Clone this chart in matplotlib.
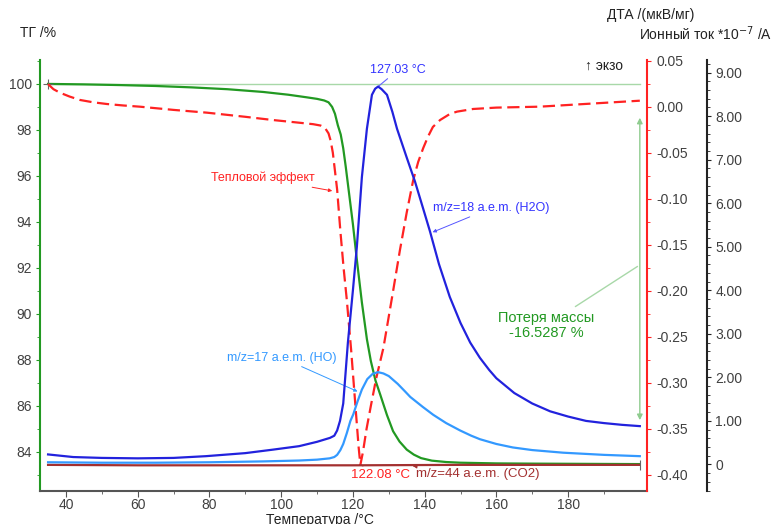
import matplotlib.pyplot as plt
from matplotlib.ticker import FixedLocator, MultipleLocator, FuncFormatter

plt.rcParams['font.family'] = ['Liberation Sans', 'DejaVu Sans']
plt.rcParams['axes.unicode_minus'] = False

# TG (mass, %)
tg_t = [35, 45, 55, 65, 75, 85, 95, 102, 107, 110, 112, 113.2, 114.2, 115, 115.8, 116.6,
        117.3, 118.0, 118.8, 120.0, 121.1, 122.5, 123.9, 125.0, 126.3, 127.6, 129.5, 131.2,
        133.0, 135.0, 137.0, 139.0, 142.0, 146.0, 150.0, 160.0, 170.0, 185.0, 200.0]
tg_v = [100.0, 99.98, 99.95, 99.91, 99.85, 99.77, 99.65, 99.53, 99.42, 99.35, 99.28, 99.2,
        99.0, 98.7, 98.2, 97.8, 97.2, 96.4, 95.4, 93.9, 92.35, 90.5, 88.9, 87.95, 87.1, 86.5,
        85.6, 84.9, 84.45, 84.1, 83.88, 83.73, 83.62, 83.56, 83.53, 83.5, 83.49, 83.48, 83.47]

# DTA (uV/mg)
dta_t = [35, 36.5, 38.3, 41, 43.9, 47.5, 51.4, 56, 60.6, 70, 79.3, 90, 97.7, 104, 108.9, 111,
         112.2, 113.2, 113.8, 114.4, 115.0, 115.6, 116.5, 117.4, 118.3, 119.5, 120.8, 121.6,
         122.08, 122.8, 123.8, 125.0, 126.5, 128.5, 131.0, 133.1, 135.0, 136.8, 138.2, 139.6,
         141.0, 142.3, 144.3, 147.0, 149.0, 153.5, 160.0, 172.0, 185.0, 200.0]
dta_v = [0.0245, 0.019, 0.0152, 0.011, 0.0073, 0.0048, 0.0029, 0.0013, 0.0, -0.0035, -0.0065,
         -0.011, -0.0145, -0.017, -0.019, -0.0205, -0.023, -0.029, -0.037, -0.05, -0.07, -0.09,
         -0.135, -0.175, -0.21, -0.264, -0.33, -0.37, -0.389, -0.375, -0.35, -0.325, -0.295,
         -0.262, -0.205, -0.156, -0.115, -0.08, -0.06, -0.045, -0.032, -0.022, -0.0145, -0.008,
         -0.0054, -0.0025, -0.001, 0.0, 0.003, 0.0065]

# ion current *1e-7 A, m/z=18 (H2O)
h2o_t = [35, 42, 50, 60, 70, 79, 90, 97.7, 105, 110, 113.6, 114.8, 115.6, 116.4, 117.3, 118.6,
         120.0, 121.1, 122.5, 123.9, 125.3, 126.2, 127.03, 128.0, 129.5, 131.0, 132.3, 135.0,
         137.3, 139.5, 141.5, 144.0, 147.0, 150.0, 152.7, 155.4, 158.0, 160.0, 165.0, 170.0,
         175.0, 180.0, 185.0, 190.0, 195.0, 200.0]
h2o_v = [0.23, 0.17, 0.15, 0.14, 0.15, 0.19, 0.26, 0.34, 0.42, 0.52, 0.61, 0.66, 0.78, 1.0, 1.4,
         2.8, 4.0, 5.0, 6.6, 7.71, 8.49, 8.63, 8.68, 8.62, 8.49, 8.1, 7.71, 7.05, 6.5, 5.9, 5.35,
         4.6, 3.85, 3.25, 2.8, 2.45, 2.17, 1.98, 1.64, 1.4, 1.22, 1.1, 1.0, 0.95, 0.91, 0.88]

# m/z=17 (HO)
ho_t = [35, 50, 65, 80, 95, 105, 110, 113.5, 114.8, 115.6, 116.5, 117.3, 118.3, 119.3, 120.1,
        121.3, 122.5, 124.0, 125.5, 127.0, 128.5, 130.0, 132.5, 134.5, 136.0, 139.5, 142.4,
        146.0, 149.9, 153.0, 155.4, 160.0, 164.6, 170.0, 178.6, 190.0, 200.0]
ho_v = [0.05, 0.04, 0.04, 0.05, 0.07, 0.09, 0.11, 0.14, 0.17, 0.22, 0.33, 0.47, 0.72, 1.0, 1.15,
        1.45, 1.72, 1.96, 2.08, 2.12, 2.09, 2.03, 1.85, 1.68, 1.55, 1.32, 1.14, 0.95, 0.78, 0.66,
        0.58, 0.47, 0.39, 0.33, 0.27, 0.22, 0.19]

# m/z=44 (CO2)
co2_t = [35, 60, 90, 120, 150, 180, 200]
co2_v = [-0.01, -0.02, -0.02, -0.02, -0.01, -0.01, -0.01]

green = '#229922'
red = '#ff2222'
blue = '#2222dd'
lblue = '#3399ff'
brown = '#a33030'
txt = '#404040'

fig = plt.figure(figsize=(7.74, 5.24), dpi=100)
ax = fig.add_axes([40 / 774, 1 - 491 / 524, 607 / 774, 431 / 524])
ax2 = ax.twinx()
ax3 = ax.twinx()

ax.set_xlim(32.75, 202.0)
ax.set_ylim(82.3, 101.04)
ax2.set_ylim(-0.4174, 0.0507)
ax3.set_ylim(-0.61, 9.29)

# spines
ax.spines['top'].set_visible(False)
ax.spines['right'].set_visible(False)
ax.spines['left'].set_color(green)
ax.spines['left'].set_linewidth(1.5)
ax.spines['bottom'].set_color('#555555')
ax.spines['bottom'].set_linewidth(1.5)
for a in (ax2, ax3):
    for s in ('left', 'top', 'bottom'):
        a.spines[s].set_visible(False)
ax2.spines['right'].set_color(red)
ax2.spines['right'].set_linewidth(1.5)
ax3.spines['right'].set_color('#222222')
ax3.spines['right'].set_linewidth(1.5)
ax3.spines['right'].set_position(('outward', 43.2))  # 60 px

# ticks
ax.xaxis.set_major_locator(FixedLocator([40, 60, 80, 100, 120, 140, 160, 180]))
ax.xaxis.set_minor_locator(FixedLocator([50, 70, 90, 110, 130, 150, 170, 190]))
ax.yaxis.set_major_locator(MultipleLocator(2))
ax.yaxis.set_minor_locator(MultipleLocator(1))
ax2.yaxis.set_major_locator(MultipleLocator(0.05))
ax2.yaxis.set_minor_locator(MultipleLocator(0.025))
ax2.yaxis.set_major_formatter(FuncFormatter(lambda v, p: f'{v:.2f}'))
ax3.yaxis.set_major_locator(MultipleLocator(1))
ax3.yaxis.set_minor_locator(MultipleLocator(0.2))
ax3.yaxis.set_major_formatter(FuncFormatter(lambda v, p: '0' if abs(v) < 1e-9 else f'{v:.2f}'))

ax.tick_params(axis='x', which='both', colors='#555555', labelcolor=txt, labelsize=10, pad=1)
ax.tick_params(axis='x', which='major', length=4)
ax.tick_params(axis='x', which='minor', length=2.5)
ax.tick_params(axis='y', which='both', colors=green, labelcolor=txt, labelsize=10, pad=3)
ax.tick_params(axis='y', which='major', length=3)
ax.tick_params(axis='y', which='minor', length=2)
ax2.tick_params(axis='y', which='both', colors=red, labelcolor=txt, labelsize=10, pad=4)
ax2.tick_params(axis='y', which='major', length=3)
ax2.tick_params(axis='y', which='minor', length=2)
ax3.tick_params(axis='y', which='both', colors='#222222', labelcolor=txt, labelsize=10, pad=3)
ax3.tick_params(axis='y', which='major', length=3)
ax3.tick_params(axis='y', which='minor', length=2)

# reference line at 100 %
ax.plot([35, 200], [100, 100], color='#a8d8a8', lw=1, zorder=1)

# curves
ax.plot(tg_t, tg_v, color=green, lw=1.6)
ax3.plot(co2_t, co2_v, color=brown, lw=1.6)
ax3.plot(ho_t, ho_v, color=lblue, lw=1.6)
ax3.plot(h2o_t, h2o_v, color=blue, lw=1.6)
ax2.plot(dta_t, dta_v, color=red, lw=1.6, dashes=(5.5, 2.5))

ax.plot([35], [100], marker='+', color='#666666', ms=7, mew=0.8)
ax3.plot([200], [-0.01], marker='|', color='#666666', ms=7, mew=0.8)

# mass loss arrow
ax.annotate('', xy=(200, 85.26), xytext=(200, 98.65),
            arrowprops=dict(arrowstyle='<|-|>', color='#8fcc8f', lw=1, mutation_scale=8))
ax.annotate('Потеря массы\n-16.5287 %', xy=(200, 92.13), xytext=(173.9, 89.5),
            ha='center', va='center', color=green, fontsize=10.5, linespacing=1.1,
            arrowprops=dict(arrowstyle='-', color='#a8d8a8', lw=1))

# peak labels
ax.annotate('127.03 °C', xy=(127.03, 8.68), xycoords=ax3.transData,
            xytext=(132.6, 100.61), textcoords='data',
            ha='center', va='center', color='#3333ff', fontsize=9,
            arrowprops=dict(arrowstyle='-', color='#6666ff', lw=0.8, shrinkA=0, shrinkB=0))
ax.annotate('122.08 °C', xy=(122.08, -0.389), xycoords=ax2.transData,
            xytext=(127.8, 83.0), textcoords='data',
            ha='center', va='center', color=red, fontsize=9.5,
            arrowprops=dict(arrowstyle='-', color='#cc8888', lw=0.8, shrinkA=0, shrinkB=0))

# curve labels
ax.annotate('Тепловой эффект', xy=(115.0, -0.092), xycoords=ax2.transData,
            xytext=(94.8, 95.9), textcoords='data',
            ha='center', va='center', color=red, fontsize=9,
            arrowprops=dict(arrowstyle='-|>', color=red, lw=0.7, mutation_scale=5, shrinkA=0))
ax.annotate('m/z=18 a.e.m. (H2O)', xy=(141.5, 5.31), xycoords=ax3.transData,
            xytext=(158.5, 94.6), textcoords='data', ha='center', va='center',
            color='#3333ff', fontsize=9,
            arrowprops=dict(arrowstyle='-|>', color='#5555ff', lw=0.7, mutation_scale=5, shrinkA=0))
ax.annotate('m/z=17 a.e.m. (HO)', xy=(122.0, 1.65), xycoords=ax3.transData,
            xytext=(100.2, 88.09), textcoords='data', ha='center', va='center',
            color=lblue, fontsize=9,
            arrowprops=dict(arrowstyle='-|>', color=lblue, lw=0.7, mutation_scale=5, shrinkA=0))
ax.annotate('m/z=44 a.e.m. (CO2)', xy=(136.8, -0.04), xycoords=ax3.transData,
            xytext=(154.9, 83.04), textcoords='data', ha='center', va='center',
            color=brown, fontsize=9.5,
            arrowprops=dict(arrowstyle='-|>', color=brown, lw=0.7, mutation_scale=5, shrinkA=0))

# axis titles
fig.text(20 / 774, 1 - 33 / 524, 'ТГ /%', ha='left', va='center', fontsize=10, color='#222222')
fig.text(651 / 774, 1 - 15 / 524, 'ДТА /(мкВ/мг)', ha='center', va='center', fontsize=10,
         color='#222222')
fig.text(772 / 774, 1 - 34 / 524, 'Ионный ток *10$^{-7}$ /A', ha='right', va='center',
         fontsize=10, color='#222222')
fig.text(604 / 774, 1 - 66 / 524, '↑ экзо', ha='center', va='center', fontsize=10,
         color='#222222')
fig.text(320 / 774, 1 - 520 / 524, 'Температура /°C', ha='center', va='center', fontsize=10,
         color='#222222')

fig.savefig('out.png', dpi=100)
